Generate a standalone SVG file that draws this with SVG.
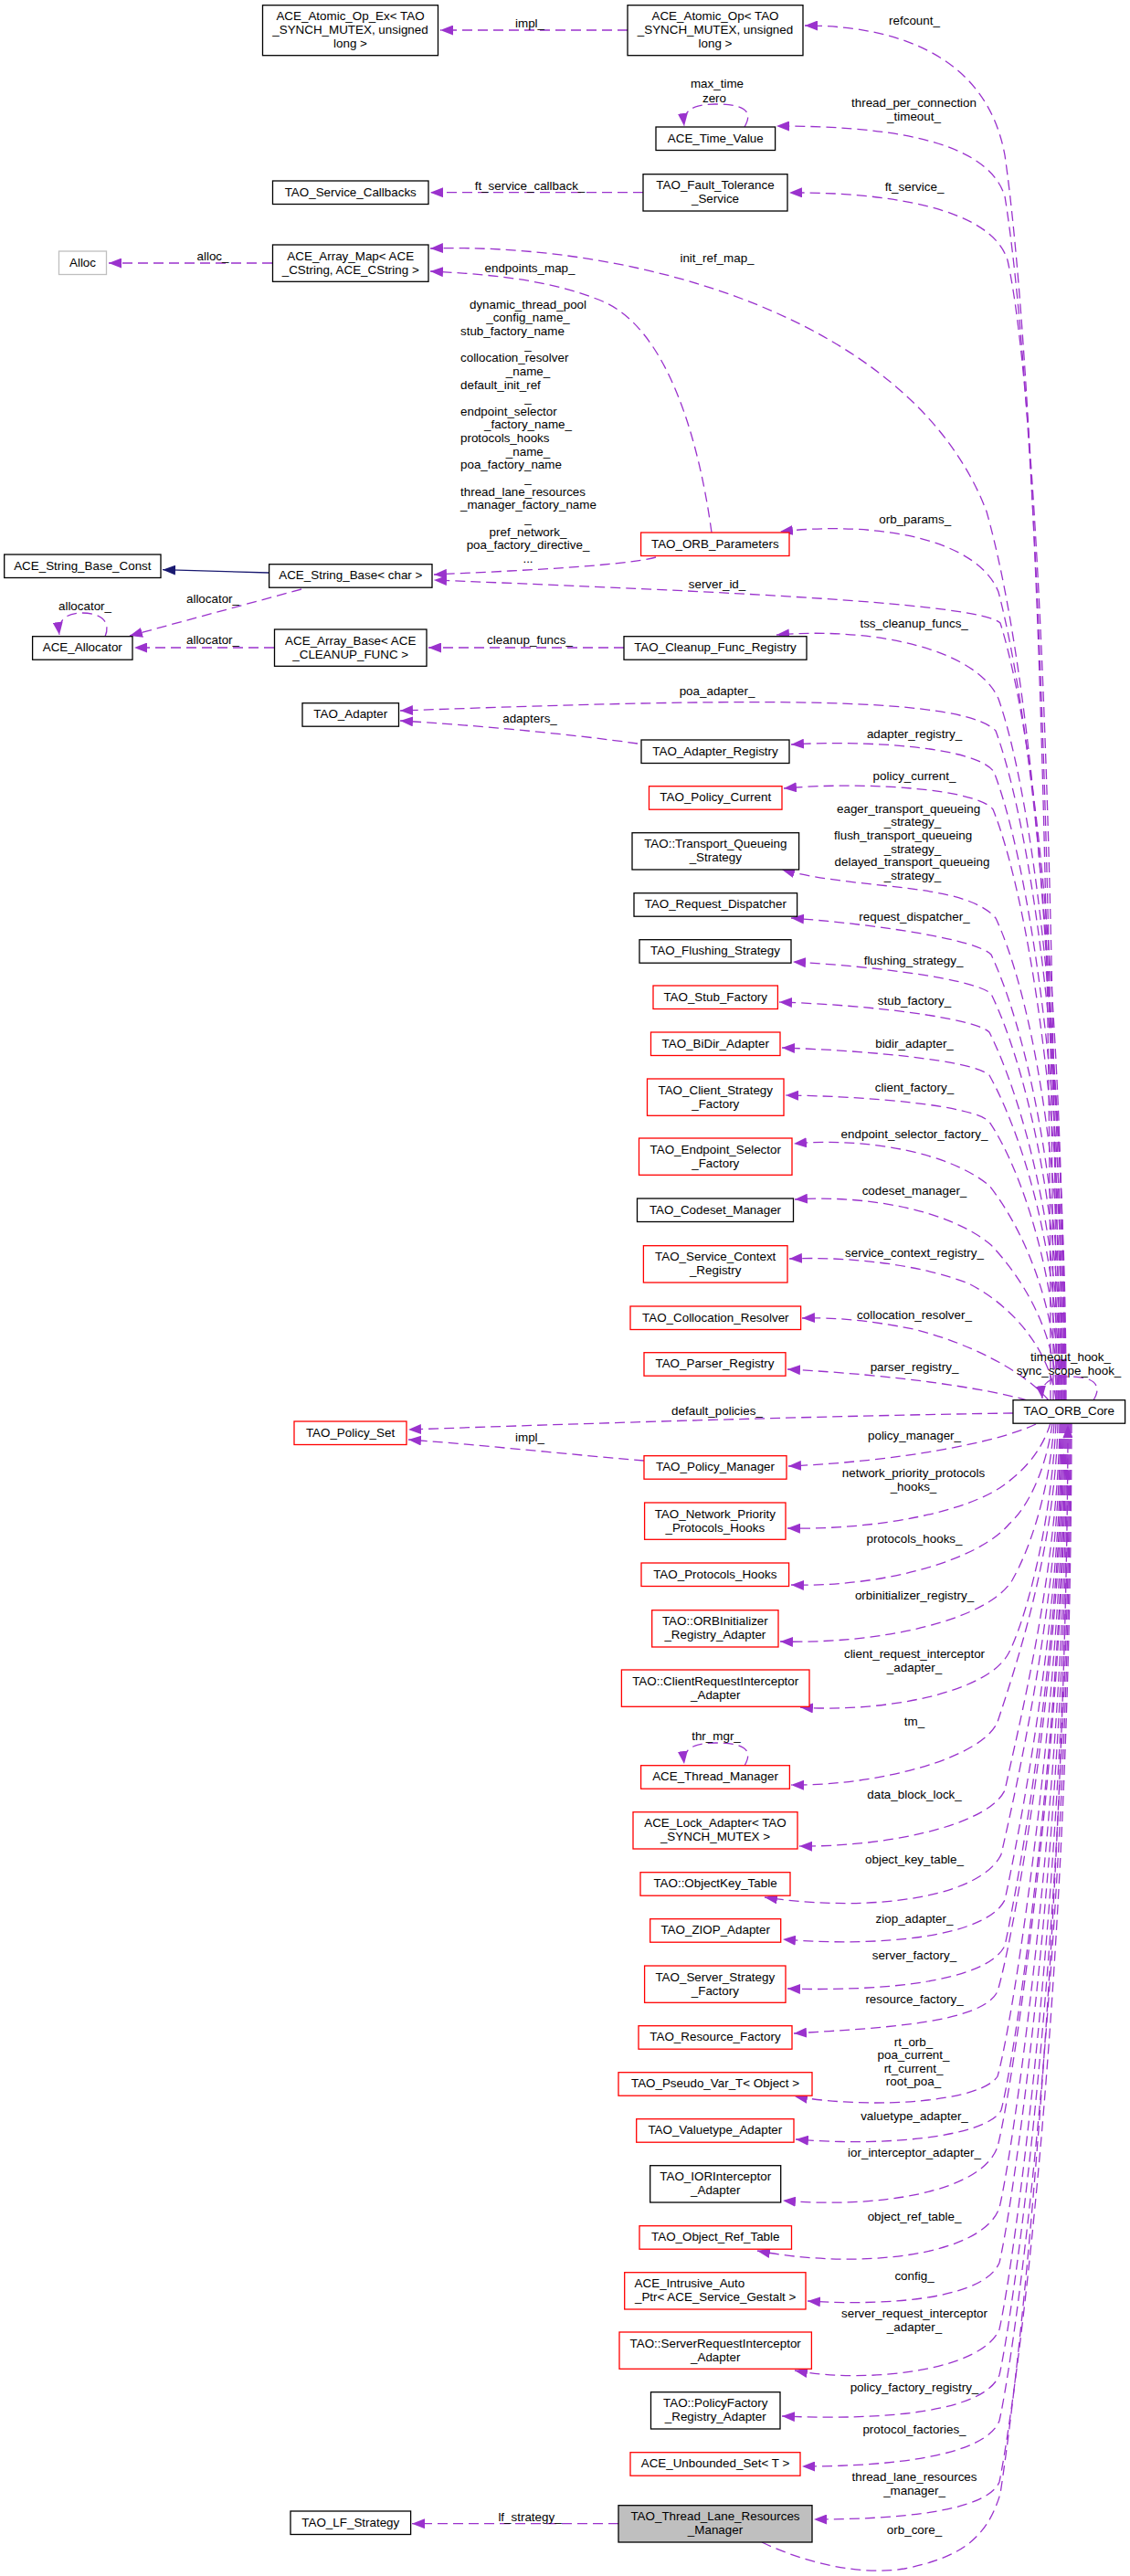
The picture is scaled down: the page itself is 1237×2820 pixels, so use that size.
<svg xmlns="http://www.w3.org/2000/svg" width="1237" height="2820" viewBox="0 0 1237 2820">
<style>
rect{stroke-width:1.3}
.b{fill:#fff;stroke:#000}
.r{fill:#fff;stroke:#ff0000}
.g{fill:#fff;stroke:#bfbfbf}
.s{fill:#bfbfbf;stroke:#000}
text{font-family:"Liberation Sans",Arial,Helvetica,sans-serif;font-size:13.4px;fill:#000}
.c{text-anchor:middle}
.e path{fill:none;stroke:#9a32cd;stroke-width:1.3;stroke-dasharray:11,6;marker-end:url(#a)}
.e path.i{stroke:#191970;stroke-dasharray:none;marker-end:url(#h)}
</style>
<defs>
<marker id="a" markerUnits="userSpaceOnUse" markerWidth="15" markerHeight="11" refX="14" refY="5.5" orient="auto"><path d="M0,0 L14,5.5 L0,11 z" fill="#9a32cd"/></marker>
<marker id="h" markerUnits="userSpaceOnUse" markerWidth="15" markerHeight="11" refX="14" refY="5.5" orient="auto"><path d="M0,0 L14,5.5 L0,11 z" fill="#191970"/></marker>
</defs>
<rect width="1237" height="2820" fill="#fff"/>
<g id="connectors" class="e">
<path d="M687,33 L482,33"/>
<path d="M704,210.7 L471,210.7"/>
<path d="M298,288 L119,288"/>
<path d="M683,709 L469,709"/>
<path d="M300,709 L147,709"/>
<path d="M330,645 L142,696"/>
<path class="i" d="M294.6,627 L178,623.7"/>
<path d="M677,2762.7 L451,2762.7"/>
<path d="M779,583 C765,480 730,360 660,330 C600,305 530,300 471,297"/>
<path d="M718,610 C680,620 560,625 475,629"/>
<path d="M698,814 C620,803 520,794 438,789"/>
<path d="M705,1599 C620,1592 530,1582 447,1576"/>
<path d="M815,139 C826,120 812,114 783,114 C760,114 747,120 749,138"/>
<path d="M115,697 C122,680 110,671 90,671 C72,671 63,679 65,695"/>
<path d="M815,1933 C826,1914 812,1908 783,1908 C760,1908 747,1914 749,1931"/>
<path d="M1197,1533 C1208,1515 1195,1507 1172,1507 C1150,1507 1139,1513 1141,1531"/>
<path d="M1150,1533 C1150,900 1130,380 1100,170 C1080,60 980,28 881,28"/>
<path d="M1153,1533 C1153,900 1130,400 1100,215 C1080,150 960,138 850,138"/>
<path d="M1156,1533 C1156,950 1135,430 1103,285 C1085,225 960,210 864,211"/>
<path d="M1159,1533 C1159,1050 1125,720 1080,560 C1000,350 700,265 471,272"/>
<path d="M1162,1533 C1162,1100 1130,790 1093,648 C1070,590 960,570 854,582"/>
<path d="M1165,1533 C1165,1120 1135,810 1095,682 C1070,660 800,648 475,635"/>
<path d="M1166,1533 C1166,1150 1130,870 1093,765 C1070,712 960,686 850,695"/>
<path d="M1167,1533 C1167,1180 1130,910 1090,800 C1050,760 800,765 438,778"/>
<path d="M1166,1533 C1166,1200 1125,940 1088,845 C1070,818 950,810 866,815"/>
<path d="M1165,1533 C1165,1230 1125,980 1087,886 C1070,864 950,855 858,863"/>
<path d="M1164,1533 C1164,1260 1125,1080 1090,1005 C1055,965 940,975 856,952"/>
<path d="M1163,1533 C1163,1290 1120,1120 1085,1045 C1068,1028 960,1012 866,1005"/>
<path d="M1162,1533 C1162,1320 1120,1160 1085,1088 C1068,1072 960,1058 868,1053"/>
<path d="M1161,1533 C1161,1350 1118,1200 1083,1130 C1066,1114 950,1100 853,1097"/>
<path d="M1160,1533 C1160,1370 1118,1240 1083,1177 C1066,1161 950,1150 856,1147"/>
<path d="M1159,1533 C1159,1400 1118,1280 1083,1228 C1066,1210 950,1200 860,1199"/>
<path d="M1158,1533 C1158,1430 1120,1345 1083,1298 C1040,1262 950,1245 869,1252"/>
<path d="M1157,1533 C1157,1460 1120,1400 1085,1363 C1040,1325 950,1308 870,1313"/>
<path d="M1156,1533 C1150,1480 1110,1430 1060,1405 C1010,1385 930,1375 864,1378"/>
<path d="M1148,1533 C1120,1500 1060,1470 1000,1455 C950,1445 910,1442 878,1443"/>
<path d="M1125,1533 C1080,1520 980,1505 862,1499"/>
<path d="M1109,1547 C900,1550 650,1558 447,1565"/>
<path d="M1134,1559 C1090,1580 980,1600 863,1605"/>
<path d="M1150,1558 C1140,1590 1120,1610 1100,1625 C1060,1655 960,1675 862,1673"/>
<path d="M1152,1558 C1145,1610 1125,1650 1105,1668 C1070,1710 960,1738 866,1735"/>
<path d="M1154,1558 C1148,1640 1125,1700 1108,1730 C1080,1775 960,1800 854,1797"/>
<path d="M1156,1558 C1150,1680 1120,1780 1104,1810 C1080,1855 960,1875 876,1869"/>
<path d="M1158,1558 C1155,1700 1110,1830 1092,1885 C1075,1925 960,1955 866,1954"/>
<path d="M1160,1558 C1158,1720 1115,1890 1100,1960 C1080,2000 965,2022 875,2021"/>
<path d="M1161,1558 C1160,1750 1112,1960 1096,2030 C1075,2075 960,2095 837,2077"/>
<path d="M1162,1558 C1161,1780 1115,2010 1100,2080 C1080,2120 965,2132 857,2123"/>
<path d="M1163,1558 C1162,1800 1115,2060 1100,2130 C1080,2170 965,2180 862,2177"/>
<path d="M1164,1558 C1163,1820 1110,2120 1092,2180 C1075,2215 965,2220 869,2226"/>
<path d="M1165,1558 C1164,1850 1110,2210 1092,2273 C1075,2300 960,2310 870,2295"/>
<path d="M1166,1558 C1165,1880 1112,2250 1096,2310 C1080,2340 965,2350 871,2342"/>
<path d="M1167,1558 C1166,1900 1108,2290 1092,2350 C1075,2400 960,2418 857,2409"/>
<path d="M1168,1558 C1167,1950 1110,2350 1094,2417 C1075,2470 940,2485 829,2464"/>
<path d="M1169,1558 C1168,2000 1110,2410 1094,2477 C1078,2515 980,2525 884,2519"/>
<path d="M1170,1558 C1169,2050 1110,2480 1094,2550 C1075,2595 950,2610 870,2595"/>
<path d="M1171,1558 C1170,2100 1110,2530 1094,2600 C1078,2640 970,2650 856,2645"/>
<path d="M1172,1558 C1171,2150 1110,2580 1094,2650 C1078,2690 970,2700 878,2700"/>
<path d="M1173,1558 C1172,2200 1110,2640 1094,2717 C1080,2750 980,2758 891,2758"/>
<path d="M834,2783 C880,2805 940,2820 990,2812 C1050,2800 1080,2780 1095,2730 C1130,2500 1168,2000 1169,1560"/>
</g>
<g id="edge-labels">
<text class="c" x="580" y="29.5">impl_</text>
<text class="c" x="1001" y="27.2">refcount_</text>
<text class="c" x="785" y="96.2">max_time</text>
<text class="c" x="782" y="111.5">zero</text>
<text class="c" x="1000.5" y="117.2">thread_per_connection</text>
<text class="c" x="1000.5" y="132.2">_timeout_</text>
<text class="c" x="580" y="207.5">ft_service_callback_</text>
<text class="c" x="1001" y="209.2">ft_service_</text>
<text class="c" x="233" y="284.5">alloc_</text>
<text class="c" x="785" y="287.2">init_ref_map_</text>
<text class="c" x="580" y="297.5">endpoints_map_</text>
<text class="c" x="578" y="337.5">dynamic_thread_pool</text>
<text class="c" x="578" y="352.2">_config_name_</text>
<text x="504" y="366.8">stub_factory_name</text>
<text class="c" x="578" y="381.5">_</text>
<text x="504" y="396.1">collocation_resolver</text>
<text class="c" x="578" y="410.8">_name_</text>
<text x="504" y="425.5">default_init_ref</text>
<text class="c" x="578" y="440.1">_</text>
<text x="504" y="454.8">endpoint_selector</text>
<text class="c" x="578" y="469.4">_factory_name_</text>
<text x="504" y="484.1">protocols_hooks</text>
<text class="c" x="578" y="498.8">_name_</text>
<text x="504" y="513.4">poa_factory_name</text>
<text class="c" x="578" y="528.1">_</text>
<text x="504" y="542.7">thread_lane_resources</text>
<text x="504" y="557.4">_manager_factory_name</text>
<text class="c" x="578" y="572.1">_</text>
<text class="c" x="578" y="586.7">pref_network_</text>
<text class="c" x="578" y="601.4">poa_factory_directive_</text>
<text class="c" x="578" y="616">...</text>
<text class="c" x="93" y="668.2">allocator_</text>
<text class="c" x="233" y="660.2">allocator_</text>
<text class="c" x="233" y="705.2">allocator_</text>
<text class="c" x="580" y="705.2">cleanup_funcs_</text>
<text class="c" x="1001.7" y="572.5">orb_params_</text>
<text class="c" x="785" y="643.5">server_id_</text>
<text class="c" x="1000.6" y="687.2">tss_cleanup_funcs_</text>
<text class="c" x="785" y="761.2">poa_adapter_</text>
<text class="c" x="580" y="791.2">adapters_</text>
<text class="c" x="1001" y="807.5">adapter_registry_</text>
<text class="c" x="1001" y="853.5">policy_current_</text>
<text x="916" y="889.5">eager_transport_queueing</text>
<text class="c" x="999" y="904.2">_strategy_</text>
<text x="913" y="918.9">flush_transport_queueing</text>
<text class="c" x="999" y="933.6">_strategy_</text>
<text x="913.6" y="948.3">delayed_transport_queueing</text>
<text class="c" x="999" y="963">_strategy_</text>
<text class="c" x="1001" y="1007.8">request_dispatcher_</text>
<text class="c" x="1000" y="1055.5">flushing_strategy_</text>
<text class="c" x="1001" y="1099.5">stub_factory_</text>
<text class="c" x="1001" y="1147.2">bidir_adapter_</text>
<text class="c" x="1001" y="1195.2">client_factory_</text>
<text class="c" x="1001" y="1245.5">endpoint_selector_factory_</text>
<text class="c" x="1001" y="1307.8">codeset_manager_</text>
<text class="c" x="1001" y="1376.2">service_context_registry_</text>
<text class="c" x="1001" y="1443.5">collocation_resolver_</text>
<text class="c" x="1001" y="1500.5">parser_registry_</text>
<text class="c" x="1172" y="1489.5">timeout_hook_</text>
<text class="c" x="1170" y="1504.5">sync_scope_hook_</text>
<text class="c" x="785" y="1548.5">default_policies_</text>
<text class="c" x="580" y="1577.5">impl_</text>
<text class="c" x="1001" y="1575.5">policy_manager_</text>
<text class="c" x="1000" y="1617.2">network_priority_protocols</text>
<text class="c" x="1000" y="1632.2">_hooks_</text>
<text class="c" x="1001" y="1688.5">protocols_hooks_</text>
<text class="c" x="1001" y="1751.2">orbinitializer_registry_</text>
<text class="c" x="1001" y="1815.2">client_request_interceptor</text>
<text class="c" x="1001" y="1829.5">_adapter_</text>
<text class="c" x="1001" y="1889">tm_</text>
<text class="c" x="784" y="1904.5">thr_mgr_</text>
<text class="c" x="1001" y="1968.5">data_block_lock_</text>
<text class="c" x="1001" y="2039.5">object_key_table_</text>
<text class="c" x="1001" y="2104.5">ziop_adapter_</text>
<text class="c" x="1001" y="2144.5">server_factory_</text>
<text class="c" x="1001" y="2192.8">resource_factory_</text>
<text class="c" x="1000" y="2239.5">rt_orb_</text>
<text class="c" x="1000" y="2254">poa_current_</text>
<text class="c" x="1000" y="2268.5">rt_current_</text>
<text class="c" x="1000" y="2283">root_poa_</text>
<text class="c" x="1001" y="2320.5">valuetype_adapter_</text>
<text class="c" x="1001" y="2361">ior_interceptor_adapter_</text>
<text class="c" x="1001" y="2431.2">object_ref_table_</text>
<text class="c" x="1001" y="2495.5">config_</text>
<text class="c" x="1001" y="2537.2">server_request_interceptor</text>
<text class="c" x="1001" y="2552.2">_adapter_</text>
<text class="c" x="1001" y="2617.8">policy_factory_registry_</text>
<text class="c" x="1001" y="2663.8">protocol_factories_</text>
<text class="c" x="1001" y="2716.2">thread_lane_resources</text>
<text class="c" x="1001" y="2731.2">_manager_</text>
<text class="c" x="580" y="2759.5">lf_strategy_</text>
<text class="c" x="1001" y="2773.5">orb_core_</text>
</g>
<g id="n_atomic_ex"><rect class="b" x="287.5" y="5.7" width="192" height="55"/><text class="c" x="383.5" y="22.2">ACE_Atomic_Op_Ex&lt; TAO</text><text class="c" x="383.5" y="37.2">_SYNCH_MUTEX, unsigned</text><text class="c" x="383.5" y="52.2">long &gt;</text></g>
<g id="n_service_callbacks"><rect class="b" x="298.5" y="198" width="170.5" height="25.5"/><text class="c" x="383.75" y="214.5">TAO_Service_Callbacks</text></g>
<g id="n_alloc"><rect class="g" x="64.5" y="275" width="52" height="25.5"/><text class="c" x="90.5" y="291.5">Alloc</text></g>
<g id="n_array_map"><rect class="b" x="298.5" y="268" width="170.5" height="40.3"/><text class="c" x="383.75" y="284.5">ACE_Array_Map&lt; ACE</text><text class="c" x="383.75" y="299.5">_CString, ACE_CString &gt;</text></g>
<g id="n_string_base_const"><rect class="b" x="4.7" y="607" width="171.3" height="25.5"/><text class="c" x="90.35" y="623.5">ACE_String_Base_Const</text></g>
<g id="n_string_base"><rect class="b" x="294.6" y="617.7" width="178.4" height="25.5"/><text class="c" x="383.8" y="634.2">ACE_String_Base&lt; char &gt;</text></g>
<g id="n_allocator"><rect class="b" x="35.6" y="696.7" width="109.4" height="25.5"/><text class="c" x="90.3" y="713.2">ACE_Allocator</text></g>
<g id="n_array_base"><rect class="b" x="300.5" y="689" width="166.5" height="40.3"/><text class="c" x="383.75" y="705.5">ACE_Array_Base&lt; ACE</text><text class="c" x="383.75" y="720.5">_CLEANUP_FUNC &gt;</text></g>
<g id="n_adapter"><rect class="b" x="331" y="769.7" width="105.5" height="25.5"/><text class="c" x="383.75" y="786.2">TAO_Adapter</text></g>
<g id="n_policy_set"><rect class="r" x="322" y="1556" width="123" height="25.5"/><text class="c" x="383.5" y="1572.5">TAO_Policy_Set</text></g>
<g id="n_lf_strategy"><rect class="b" x="318" y="2749" width="131.6" height="25.5"/><text class="c" x="383.8" y="2765.5">TAO_LF_Strategy</text></g>
<g id="n_atomic"><rect class="b" x="687" y="5.7" width="192" height="55"/><text class="c" x="783" y="22.2">ACE_Atomic_Op&lt; TAO</text><text class="c" x="783" y="37.2">_SYNCH_MUTEX, unsigned</text><text class="c" x="783" y="52.2">long &gt;</text></g>
<g id="n_time_value"><rect class="b" x="718" y="139" width="130.6" height="25.5"/><text class="c" x="783.3" y="155.5">ACE_Time_Value</text></g>
<g id="n_fault_tolerance"><rect class="b" x="704" y="190.7" width="158" height="40.3"/><text class="c" x="783" y="207.2">TAO_Fault_Tolerance</text><text class="c" x="783" y="222.2">_Service</text></g>
<g id="n_orb_params"><rect class="r" x="701.6" y="583" width="162.4" height="25.5"/><text class="c" x="782.8" y="599.5">TAO_ORB_Parameters</text></g>
<g id="n_cleanup"><rect class="b" x="683" y="696.7" width="200" height="25.5"/><text class="c" x="783" y="713.2">TAO_Cleanup_Func_Registry</text></g>
<g id="n_adapter_registry"><rect class="b" x="702" y="810" width="162" height="25.5"/><text class="c" x="783" y="826.5">TAO_Adapter_Registry</text></g>
<g id="n_policy_current"><rect class="r" x="710.5" y="860.7" width="145.5" height="25.5"/><text class="c" x="783.25" y="877.2">TAO_Policy_Current</text></g>
<g id="n_tqs"><rect class="b" x="692" y="911.7" width="182.6" height="40.3"/><text class="c" x="783.3" y="928.2">TAO::Transport_Queueing</text><text class="c" x="783.3" y="943.2">_Strategy</text></g>
<g id="n_request_dispatcher"><rect class="b" x="694" y="977.7" width="178.6" height="25.5"/><text class="c" x="783.3" y="994.2">TAO_Request_Dispatcher</text></g>
<g id="n_flushing"><rect class="b" x="700" y="1028.7" width="166" height="25.5"/><text class="c" x="783" y="1045.2">TAO_Flushing_Strategy</text></g>
<g id="n_stub_factory"><rect class="r" x="715" y="1079" width="136.4" height="25.5"/><text class="c" x="783.2" y="1095.5">TAO_Stub_Factory</text></g>
<g id="n_bidir"><rect class="r" x="712.5" y="1130" width="141.5" height="25.5"/><text class="c" x="783.25" y="1146.5">TAO_BiDir_Adapter</text></g>
<g id="n_client_strategy"><rect class="r" x="708.5" y="1181" width="149.5" height="40.3"/><text class="c" x="783.25" y="1197.5">TAO_Client_Strategy</text><text class="c" x="783.25" y="1212.5">_Factory</text></g>
<g id="n_endpoint_selector"><rect class="r" x="699.5" y="1246" width="167.5" height="40.3"/><text class="c" x="783.25" y="1262.5">TAO_Endpoint_Selector</text><text class="c" x="783.25" y="1277.5">_Factory</text></g>
<g id="n_codeset"><rect class="b" x="697.5" y="1312" width="171" height="25.5"/><text class="c" x="783" y="1328.5">TAO_Codeset_Manager</text></g>
<g id="n_service_context"><rect class="r" x="704.4" y="1363.7" width="157.6" height="40.3"/><text class="c" x="783.2" y="1380.2">TAO_Service_Context</text><text class="c" x="783.2" y="1395.2">_Registry</text></g>
<g id="n_collocation"><rect class="r" x="690" y="1430" width="186.6" height="25.5"/><text class="c" x="783.3" y="1446.5">TAO_Collocation_Resolver</text></g>
<g id="n_parser"><rect class="r" x="705" y="1480.7" width="155" height="25.5"/><text class="c" x="782.5" y="1497.2">TAO_Parser_Registry</text></g>
<g id="n_orb_core"><rect class="b" x="1109" y="1532.7" width="122.6" height="25.5"/><text class="c" x="1170.3" y="1549.2">TAO_ORB_Core</text></g>
<g id="n_policy_manager"><rect class="r" x="705" y="1593.7" width="156" height="25.5"/><text class="c" x="783" y="1610.2">TAO_Policy_Manager</text></g>
<g id="n_network_priority"><rect class="r" x="705.6" y="1645" width="154.4" height="40.3"/><text class="c" x="782.8" y="1661.5">TAO_Network_Priority</text><text class="c" x="782.8" y="1676.5">_Protocols_Hooks</text></g>
<g id="n_protocols_hooks"><rect class="r" x="702" y="1711" width="161.6" height="25.5"/><text class="c" x="782.8" y="1727.5">TAO_Protocols_Hooks</text></g>
<g id="n_orbinitializer"><rect class="r" x="713.7" y="1762.7" width="138.3" height="40.3"/><text class="c" x="782.85" y="1779.2">TAO::ORBInitializer</text><text class="c" x="782.85" y="1794.2">_Registry_Adapter</text></g>
<g id="n_client_request"><rect class="r" x="680.4" y="1828" width="205.6" height="40.3"/><text class="c" x="783.2" y="1844.5">TAO::ClientRequestInterceptor</text><text class="c" x="783.2" y="1859.5">_Adapter</text></g>
<g id="n_thread_manager"><rect class="r" x="701.6" y="1932.7" width="162.8" height="25.5"/><text class="c" x="783" y="1949.2">ACE_Thread_Manager</text></g>
<g id="n_lock_adapter"><rect class="r" x="693" y="1983.7" width="180" height="40.3"/><text class="c" x="783" y="2000.2">ACE_Lock_Adapter&lt; TAO</text><text class="c" x="783" y="2015.2">_SYNCH_MUTEX &gt;</text></g>
<g id="n_objectkey"><rect class="r" x="701" y="2049.7" width="164" height="25.5"/><text class="c" x="783" y="2066.2">TAO::ObjectKey_Table</text></g>
<g id="n_ziop"><rect class="r" x="711.7" y="2100.7" width="143" height="25.5"/><text class="c" x="783.2" y="2117.2">TAO_ZIOP_Adapter</text></g>
<g id="n_server_strategy"><rect class="r" x="705.6" y="2152" width="154.4" height="40.3"/><text class="c" x="782.8" y="2168.5">TAO_Server_Strategy</text><text class="c" x="782.8" y="2183.5">_Factory</text></g>
<g id="n_resource_factory"><rect class="r" x="699" y="2217.7" width="168" height="25.5"/><text class="c" x="783" y="2234.2">TAO_Resource_Factory</text></g>
<g id="n_pseudo_var"><rect class="r" x="677" y="2268.7" width="212" height="25.5"/><text class="c" x="783" y="2285.2">TAO_Pseudo_Var_T&lt; Object &gt;</text></g>
<g id="n_valuetype"><rect class="r" x="696.7" y="2319.7" width="172.3" height="25.5"/><text class="c" x="782.85" y="2336.2">TAO_Valuetype_Adapter</text></g>
<g id="n_iorinterceptor"><rect class="b" x="711.7" y="2370.7" width="143" height="40.3"/><text class="c" x="783.2" y="2387.2">TAO_IORInterceptor</text><text class="c" x="783.2" y="2402.2">_Adapter</text></g>
<g id="n_object_ref"><rect class="r" x="700" y="2436.7" width="166.5" height="25.5"/><text class="c" x="783.25" y="2453.2">TAO_Object_Ref_Table</text></g>
<g id="n_intrusive"><rect class="r" x="683.7" y="2487.7" width="198.3" height="40.3"/><text x="694.6" y="2504.2">ACE_Intrusive_Auto</text><text class="c" x="783.2" y="2519.2">_Ptr&lt; ACE_Service_Gestalt &gt;</text></g>
<g id="n_server_request"><rect class="r" x="678" y="2553" width="210.4" height="40.3"/><text class="c" x="783.2" y="2569.5">TAO::ServerRequestInterceptor</text><text class="c" x="783.2" y="2584.5">_Adapter</text></g>
<g id="n_policy_factory"><rect class="b" x="712.5" y="2618.7" width="141.5" height="40.3"/><text class="c" x="783.25" y="2635.2">TAO::PolicyFactory</text><text class="c" x="783.25" y="2650.2">_Registry_Adapter</text></g>
<g id="n_unbounded_set"><rect class="r" x="690" y="2684.7" width="186" height="25.5"/><text class="c" x="783" y="2701.2">ACE_Unbounded_Set&lt; T &gt;</text></g>
<g id="n_tlrm"><rect class="s" x="677" y="2742.7" width="212" height="40.3"/><text class="c" x="783" y="2759.2">TAO_Thread_Lane_Resources</text><text class="c" x="783" y="2774.2">_Manager</text></g>
</svg>
